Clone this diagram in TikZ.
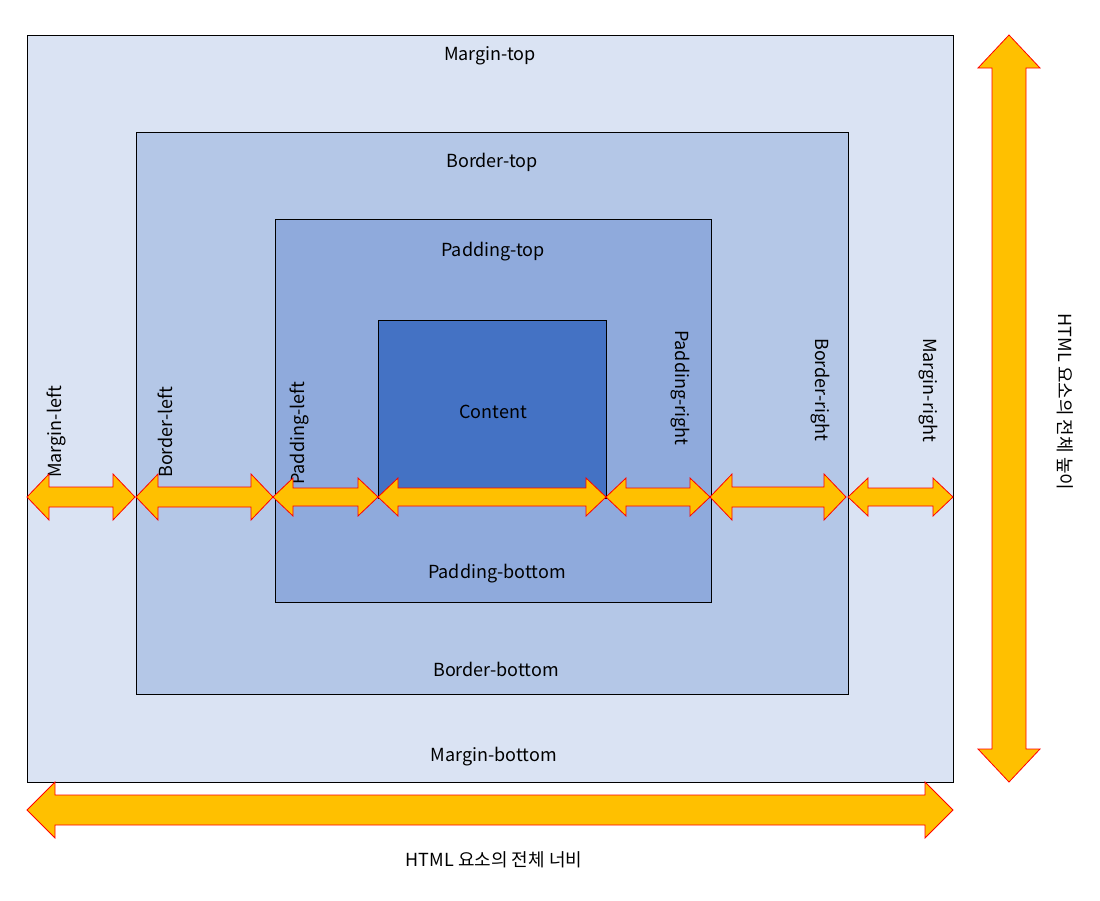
\documentclass[tikz,border=0pt]{standalone}
\usepackage{fontspec}
\setmainfont{Noto Sans CJK KR}
\definecolor{marginC}{HTML}{DAE3F3}
\definecolor{borderC}{HTML}{B4C7E7}
\definecolor{paddingC}{HTML}{8FAADC}
\definecolor{contentC}{HTML}{4472C4}
\definecolor{arrowC}{HTML}{FFC000}
\tikzset{
    box/.style = {fill=#1, draw=black, line width=0.8pt},
    lbl/.style = {font=\fontsize{18}{22}\selectfont, inner sep=0pt},
    arr/.style = {fill=arrowC, draw=red, line width=0.8pt, line join=miter}
}
% horizontal double arrow: x1, x2, y centre, half height, half shaft, head length
\newcommand{\hdarrow}[6]{%
  \filldraw[arr] (#1,#3) -- ({#1+#6},{#3-#4}) -- ({#1+#6},{#3-#5}) -- ({#2-#6},{#3-#5})
    -- ({#2-#6},{#3-#4}) -- (#2,#3) -- ({#2-#6},{#3+#4}) -- ({#2-#6},{#3+#5})
    -- ({#1+#6},{#3+#5}) -- ({#1+#6},{#3+#4}) -- cycle;}
% vertical double arrow: y1, y2, x centre, half width, half shaft, head length
\newcommand{\vdarrow}[6]{%
  \filldraw[arr] (#3,#1) -- ({#3-#4},{#1+#6}) -- ({#3-#5},{#1+#6}) -- ({#3-#5},{#2-#6})
    -- ({#3-#4},{#2-#6}) -- (#3,#2) -- ({#3+#4},{#2-#6}) -- ({#3+#5},{#2-#6})
    -- ({#3+#5},{#1+#6}) -- ({#3+#4},{#1+#6}) -- cycle;}
\begin{document}
\begin{tikzpicture}[x=1pt, y=-1pt]
    \useasboundingbox (0,0) rectangle (1100,900);
    % nested boxes
    \draw[box=marginC] (27,35) rectangle (953,782);
    \draw[box=borderC] (136,132) rectangle (848,694);
    \draw[box=paddingC] (275,219) rectangle (711,602);
    \draw[box=contentC] (378,320) rectangle (606,498);

    % labels
    \node[lbl] (mtop) at (490,56) {Margin-top};
    \node[lbl] (btop) at (492,162) {Border-top};
    \node[lbl] (ptop) at (493,252) {Padding-top};
    \node[lbl] (content) at (493,412) {Content};
    \node[lbl] (pbot) at (497,574) {Padding-bottom};
    \node[lbl] (bbot) at (496,669) {Border-bottom};
    \node[lbl] (mbot) at (494,757) {Margin-bottom};
    \node[lbl, rotate=90, anchor=west] (mleft) at (56,478) {Margin-left};
    \node[lbl, rotate=90, anchor=west] (bleft) at (165,478) {Border-left};
    \node[lbl, rotate=90, anchor=west] (pleft) at (299,485) {Padding-left};
    \node[lbl, rotate=-90, anchor=west] (pright) at (680,330) {Padding-right};
    \node[lbl, rotate=-90, anchor=west] (bright) at (820,338) {Border-right};
    \node[lbl, rotate=-90, anchor=west] (mright) at (928,338) {Margin-right};

    % width arrows
    \hdarrow{27}{135}{497}{23}{10}{22}
    \hdarrow{136}{273}{497}{23}{10}{22}
    \hdarrow{273}{378}{497}{19}{9}{20}
    \hdarrow{378}{606}{497}{19}{9}{20}
    \hdarrow{606}{710}{497}{19}{9}{20}
    \hdarrow{710}{846}{497}{23}{10}{22}
    \hdarrow{848}{953}{497}{19}{9}{20}

    % total width and height
    \hdarrow{27}{953}{810}{28}{15}{28}
    \vdarrow{35}{782}{1009}{31}{17}{33}
    \node[lbl] (width) at (494,860) {HTML 요소의 전체 너비};
    \node[lbl, rotate=-90] (height) at (1065,402) {HTML 요소의 전체 높이};
\end{tikzpicture}
\end{document}
